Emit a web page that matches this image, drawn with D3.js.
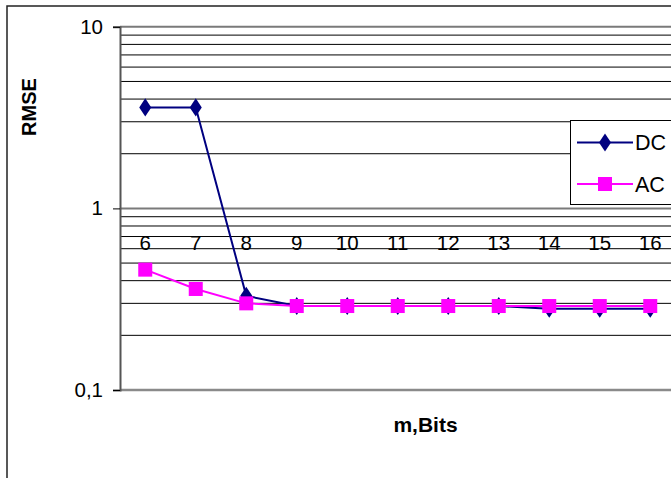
<!DOCTYPE html>
<html>
<head>
<meta charset="utf-8">
<script src="https://cdn.jsdelivr.net/npm/d3@7/dist/d3.min.js"></script>
<style>
  html, body { margin: 0; padding: 0; background: #fff; }
  svg { display: block; font-family: "Liberation Sans", Arial, sans-serif; }
</style>
</head>
<body>
<svg id="chart" width="671" height="478"></svg>
<script>
// Bit widths on the category axis
const bits = [6, 7, 8, 9, 10, 11, 12, 13, 14, 15, 16];
// RMSE per bit width, both series
const dcValues = [3.6, 3.6, 0.33, 0.29, 0.29, 0.29, 0.29, 0.29, 0.28, 0.28, 0.28];
const acValues = [0.46, 0.36, 0.30, 0.29, 0.29, 0.29, 0.29, 0.29, 0.29, 0.29, 0.29];
// Labelled decades on the value axis
const yTicks = [0.1, 1, 10];
const yTickLabels = ["0,1", "1", "10"];
const seriesNames = ["DC", "AC"];

const svg = d3.select("#chart");
const plot = { left: 120, top: 26.8, bottom: 390 };
const step = 50.5;

const x = d3.scaleBand()
  .domain(bits)
  .range([plot.left, plot.left + step * bits.length])
  .padding(0);

const y = d3.scaleLog()
  .domain([0.1, 10])
  .range([plot.bottom, plot.top]);

// Chart frame
svg.append("rect")
  .attr("x", 7).attr("y", 6)
  .attr("width", 760).attr("height", 560)
  .attr("fill", "none").attr("stroke", "#222").attr("stroke-width", 1.5);

// Horizontal gridlines at every mantissa of each decade
const minor = [];
[0.1, 1].forEach(d => { for (let k = 2; k <= 9; k++) minor.push(+(d * k).toFixed(2)); });
const gridRight = 700;
svg.append("g").selectAll("line").data(minor).join("line")
  .attr("x1", plot.left).attr("x2", gridRight)
  .attr("y1", d => y(d)).attr("y2", d => y(d))
  .attr("stroke", "#000").attr("stroke-width", 1);

svg.append("g").selectAll("line").data([1, 10]).join("line")
  .attr("x1", plot.left).attr("x2", gridRight)
  .attr("y1", d => y(d)).attr("y2", d => y(d))
  .attr("stroke", "#7a7a7a").attr("stroke-width", 2);

// Bottom edge of the plot at 0.1
svg.append("line")
  .attr("x1", plot.left).attr("x2", gridRight)
  .attr("y1", y(0.1)).attr("y2", y(0.1))
  .attr("stroke", "#8a8a8a").attr("stroke-width", 2.5);

// Value axis
const yAxis = d3.axisLeft(y)
  .tickValues(yTicks)
  .tickFormat((d, i) => yTickLabels[i])
  .tickSize(7)
  .tickPadding(10);
const yg = svg.append("g")
  .attr("transform", `translate(${plot.left},0)`)
  .call(yAxis);
yg.select(".domain").attr("stroke", "#555").attr("stroke-width", 2);
yg.selectAll(".tick line").attr("stroke", "#000").attr("stroke-width", 1);
yg.selectAll(".tick text")
  .attr("font-size", 20.5).attr("fill", "#000")
  .attr("font-family", "'Liberation Sans', Arial, sans-serif");

// Category axis, crossing at 1
const xAxis = d3.axisBottom(x).tickSize(0).tickPadding(0);
const xg = svg.append("g")
  .attr("transform", `translate(0,${y(1)})`)
  .call(xAxis);
xg.select(".domain").remove();
xg.selectAll(".tick text")
  .attr("font-size", 20.5).attr("fill", "#000")
  .attr("font-family", "'Liberation Sans', Arial, sans-serif")
  .attr("dy", null)
  .attr("y", 41.5);

// Axis titles
svg.append("text")
  .attr("transform", "translate(35.5,107) rotate(-90)")
  .attr("text-anchor", "middle")
  .attr("font-size", 20).attr("font-weight", "bold")
  .text("RMSE");

svg.append("text")
  .attr("x", 425.5).attr("y", 431.5)
  .attr("text-anchor", "middle")
  .attr("font-size", 21).attr("font-weight", "bold")
  .text("m,Bits");

const cx = d => x(d) + x.bandwidth() / 2;
const line = d3.line().x(d => cx(d.b)).y(d => y(d.v));

const dcData = bits.map((b, i) => ({ b, v: dcValues[i] }));
const acData = bits.map((b, i) => ({ b, v: acValues[i] }));

const navy = "#000080";
const magenta = "#ff00ff";
const diamond = d3.symbol().type(d3.symbolDiamond).size(95);

// DC series
svg.append("path").datum(dcData)
  .attr("d", line).attr("fill", "none")
  .attr("stroke", navy).attr("stroke-width", 2);
svg.append("g").selectAll("path").data(dcData).join("path")
  .attr("d", diamond)
  .attr("transform", d => `translate(${cx(d.b)},${y(d.v)}) scale(1.15,1)`)
  .attr("fill", navy);

// AC series
svg.append("path").datum(acData)
  .attr("d", line).attr("fill", "none")
  .attr("stroke", magenta).attr("stroke-width", 2);
svg.append("g").selectAll("rect").data(acData).join("rect")
  .attr("x", d => cx(d.b) - 7).attr("y", d => y(d.v) - 7)
  .attr("width", 14).attr("height", 14)
  .attr("fill", magenta);

// Legend
const lg = svg.append("g");
lg.append("rect")
  .attr("x", 570.5).attr("y", 120.5)
  .attr("width", 140).attr("height", 84)
  .attr("fill", "#fff").attr("stroke", "#000").attr("stroke-width", 1);
const legendRows = [
  { name: seriesNames[0], color: navy, yy: 142.5, mark: "diamond" },
  { name: seriesNames[1], color: magenta, yy: 184, mark: "square" }
];
legendRows.forEach(r => {
  lg.append("line")
    .attr("x1", 577).attr("x2", 633)
    .attr("y1", r.yy).attr("y2", r.yy)
    .attr("stroke", r.color).attr("stroke-width", 2);
  if (r.mark === "diamond") {
    lg.append("path").attr("d", diamond)
      .attr("transform", `translate(605,${r.yy}) scale(1.15,1)`)
      .attr("fill", r.color);
  } else {
    lg.append("rect")
      .attr("x", 598).attr("y", r.yy - 7)
      .attr("width", 14).attr("height", 14)
      .attr("fill", r.color);
  }
  lg.append("text")
    .attr("x", 635).attr("y", r.yy + 7.5)
    .attr("font-size", 21.5).attr("fill", "#000")
    .text(r.name);
});
</script>
</body>
</html>
